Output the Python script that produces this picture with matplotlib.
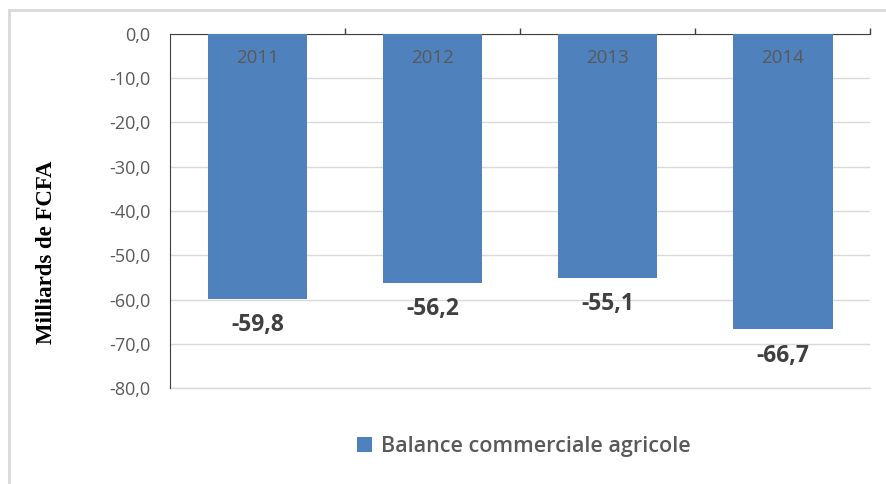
import matplotlib.pyplot as plt
from matplotlib.patches import Rectangle

years = ["2011", "2012", "2013", "2014"]
balance = [-59.8, -56.2, -55.1, -66.7]
yticks = [0, -10, -20, -30, -40, -50, -60, -70, -80]

bar_color = "#4F81BD"
grey_txt = "#595959"


def fr(v):
    return f"{v:.1f}".replace(".", ",")


fig = plt.figure(figsize=(8.87, 4.84), dpi=100)
ax = fig.add_axes([0.1917, 0.1983, 0.7893, 0.7315])

# chart border (light grey frame)
fig.patches.append(Rectangle((9 / 887, -0.1), 1.2, 1 - 10 / 484 + 0.1,
                             transform=fig.transFigure, fill=False,
                             edgecolor="#D9D9D9", linewidth=2))

x = list(range(len(years)))
bars = ax.bar(x, balance, width=0.57, color=bar_color, zorder=3,
              label="Balance commerciale agricole")

ax.set_xlim(-0.5, len(years) - 0.5)
ax.set_ylim(-80, 0)
ax.set_yticks(yticks)
ax.set_yticklabels([fr(v) for v in yticks], color=grey_txt,
                   fontsize=13, family="Open Sans")
ax.tick_params(axis="y", length=0, pad=14)
ax.yaxis.grid(True, color="#D9D9D9", linewidth=1, zorder=0)
ax.axhline(-80, color="#D9D9D9", linewidth=1, clip_on=False, zorder=0)

# category axis sits on the top edge, separators ticking upwards
ax.xaxis.tick_top()
ax.set_xticks([i + 0.5 for i in x])
ax.set_xticklabels([])
ax.tick_params(axis="x", direction="out", length=4, color="#404040", width=1)

for s in ["right", "bottom"]:
    ax.spines[s].set_visible(False)
ax.spines["top"].set_color("#404040")
ax.spines["left"].set_color("#404040")

for xi, yr, v in zip(x, years, balance):
    ax.text(xi, -5.5, yr, ha="center", va="center", color=grey_txt,
            fontsize=13.5, family="Open Sans", zorder=4)
    ax.annotate(fr(v), (xi, v), xytext=(0, -19), textcoords="offset points",
                ha="center", va="center", fontsize=16.5, fontweight="bold",
                color="#404040", family="Open Sans")

ax.set_ylabel("Milliards de FCFA", family="Liberation Serif", fontweight="bold",
              fontsize=16.5, color="black", va="center")
ax.yaxis.set_label_coords(-0.176, 0.384)

leg = ax.legend(loc="center", bbox_to_anchor=(0.505, -0.165), frameon=False,
                handlelength=0.7, handleheight=0.7, handletextpad=0.4,
                prop={"family": "Open Sans", "size": 15.5, "weight": "semibold"})
for t in leg.get_texts():
    t.set_color("#595959")

fig.savefig("out.png", dpi=100)
